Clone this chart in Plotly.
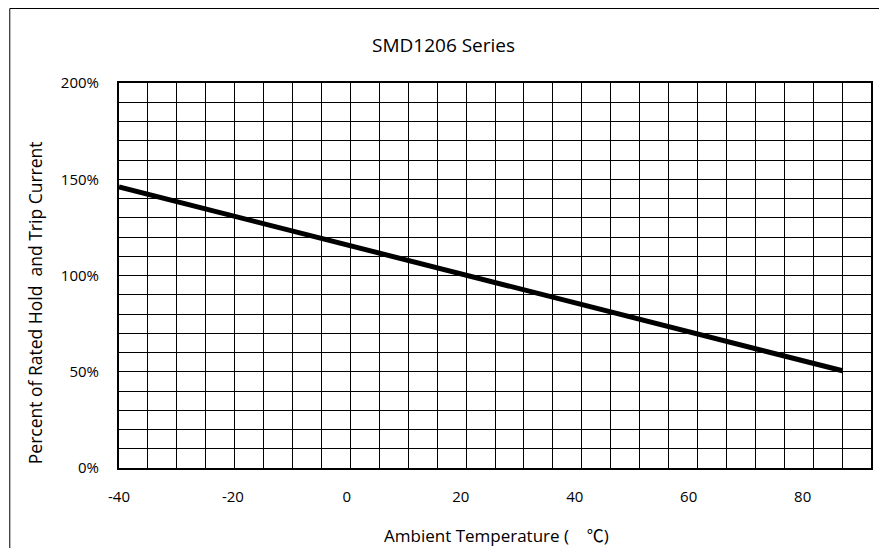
import plotly.graph_objects as go

# Data
temperature_c = [-40, 87]
percent_rated = [146, 50.5]

x_tick_vals = [-40, -20, 0, 20, 40, 60, 80]
x_tick_text = ["-40", "-20", "0", "20", "40", "60", "80"]
y_tick_vals = [0, 50, 100, 150, 200]
y_tick_text = ["0%", "50%", "100%", "150%", "200%"]

x_range = [-40, 92]
y_range = [0, 200]
x_grid_divisions = 26
y_grid_step = 10

title_text = "SMD1206 Series"
x_title = ("Ambient Temperature (\u00a0\u00a0\u00a0\u00a0"
           "<span style='font-family:Noto Sans CJK SC;font-size:17px'>\u2103</span>)")
y_title = "Percent of Rated Hold\u00a0 and Trip Current"

FONT = "Open Sans, Noto Sans, DejaVu Sans, sans-serif"

W, H = 879, 548
ML, MR, MT, MB = 119, 6, 83, 80
pw = W - ML - MR
ph = H - MT - MB


def px_x(X):
    return (X - ML) / pw


def px_y(Y):
    return (H - MB - Y) / ph


fig = go.Figure()

# invisible trace on the overlay axis to carry the vertical grid
fig.add_trace(go.Scatter(x=[0, x_grid_divisions], y=[0, 0], xaxis="x2", yaxis="y",
                         mode="markers", marker=dict(opacity=0), hoverinfo="skip",
                         showlegend=False))

fig.add_trace(go.Scatter(
    x=temperature_c, y=percent_rated, mode="lines",
    line=dict(color="black", width=5), showlegend=False,
))

fig.update_layout(
    width=W, height=H,
    margin=dict(l=ML, r=MR, t=MT, b=MB, pad=0),
    paper_bgcolor="white", plot_bgcolor="white",
    font=dict(family=FONT, color="black", size=15),
    xaxis=dict(
        range=x_range, tickmode="array", tickvals=x_tick_vals, ticktext=x_tick_text,
        showgrid=False, zeroline=False, showline=True, linecolor="black", linewidth=2,
        mirror=True, ticks="", ticklabelstandoff=14, tickfont=dict(size=15),
    ),
    xaxis2=dict(
        range=[0, x_grid_divisions], overlaying="x", showgrid=True, gridcolor="black",
        gridwidth=1, dtick=1, tick0=0, showticklabels=False, ticks="", zeroline=False,
        showline=False,
    ),
    yaxis=dict(
        range=y_range, tickmode="array", tickvals=y_tick_vals, ticktext=y_tick_text,
        showgrid=True, gridcolor="black", gridwidth=1, zeroline=False,
        showline=True, linecolor="black", linewidth=2, mirror=True, ticks="",
        ticklabelstandoff=15, tickfont=dict(size=15),
        minor=dict(dtick=y_grid_step, tick0=0, showgrid=True, gridcolor="black", gridwidth=1),
    ),
    annotations=[
        dict(text=title_text, xref="paper", yref="paper", x=px_x(444), y=px_y(45),
             xanchor="center", yanchor="middle", showarrow=False, font=dict(size=19)),
        dict(text=x_title, xref="paper", yref="paper", x=px_x(498), y=px_y(534),
             xanchor="center", yanchor="middle", showarrow=False, font=dict(size=17)),
        dict(text=y_title, xref="paper", yref="paper", x=px_x(35), y=px_y(303),
             xanchor="center", yanchor="middle", showarrow=False, textangle=-90,
             font=dict(size=17.5)),
    ],
    shapes=[
        dict(type="rect", xref="paper", yref="paper", x0=px_x(9.5), y0=px_y(620),
             x1=px_x(960), y1=px_y(8.5), line=dict(color="black", width=1),
             fillcolor="rgba(0,0,0,0)", layer="below"),
    ],
)

fig.write_html("out.html", config={"displayModeBar": False},
               post_script="document.body.style.margin='0';document.body.style.overflow='hidden';")
